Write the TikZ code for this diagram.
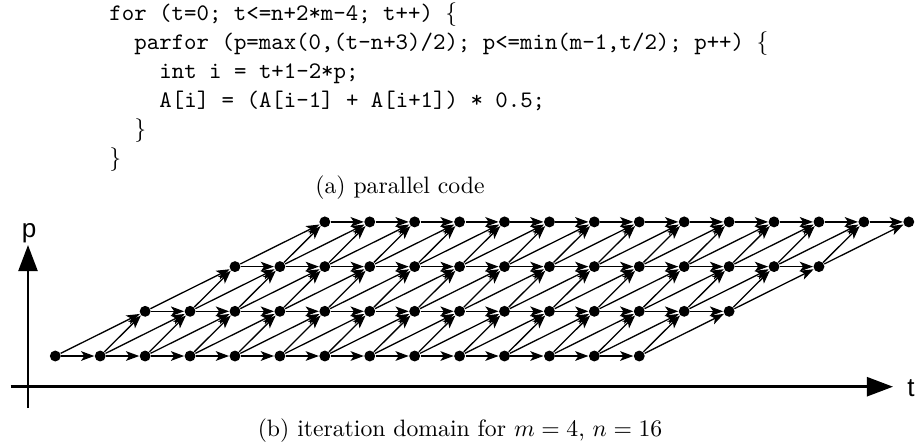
\documentclass[tikz,border=0pt]{standalone}
\usepackage{fontspec}
\newfontfamily\axisfont{Liberation Sans}
\usetikzlibrary{arrows.meta}
\begin{document}
\begin{tikzpicture}[x=0.422pt,y=-0.422pt,
  dot/.style={circle,fill=black,inner sep=0pt,minimum size=4.6pt},
  dep/.style={-{Stealth[length=5.6pt,width=4.1pt,inset=1.4pt]},line width=0.55pt},
  axis/.style={-{Triangle[length=11pt,width=8pt]},line width=1.1pt},
  code/.style={anchor=base west,inner sep=0pt,font=\ttfamily},
  caption/.style={anchor=base,inner sep=0pt},
  axlabel/.style={anchor=base,inner sep=0pt,font=\axisfont\fontsize{11}{13}\selectfont}]
\useasboundingbox (0,0) rectangle (915,447);
% code
\node[code] (c1) at (109,20.5) {for (t=0; t<=n+2*m-4; t++) $\{$};
\node[code] (c2) at (134,49.5) {parfor (p=max(0,(t-n+3)/2); p<=min(m-1,t/2); p++) $\{$};
\node[code] (c3) at (159,78.5) {int i = t+1-2*p;};
\node[code] (c4) at (159,107.5) {A[i] = (A[i-1] + A[i+1]) * 0.5;};
\node[code] (c5) at (134,136.5) {$\}$};
\node[code] (c6) at (109,165.5) {$\}$};
\node[caption] (capa) at (400,193) {(a) parallel code};
\node[caption] (capb) at (460,436) {(b) iteration domain for $m=4$, $n=16$};
% lattice nodes
\foreach \p in {0,...,3} {
  \pgfmathtruncatemacro\tmin{2*\p}
  \pgfmathtruncatemacro\tmax{2*\p+13}
  \foreach \t in {\tmin,...,\tmax} {
    \node[dot] (n-\t-\p) at ({55.3+44.92*\t},{356-44.7*\p}) {};
  }
}
% dependences
\foreach \p in {0,...,3} {
  \pgfmathtruncatemacro\tmin{2*\p}
  \pgfmathtruncatemacro\tmax{2*\p+13}
  \pgfmathtruncatemacro\pn{\p+1}
  \foreach \t in {\tmin,...,\tmax} {
    \pgfmathtruncatemacro\ta{\t+1}
    \pgfmathtruncatemacro\tb{\t+2}
    \ifnum\t<\tmax \draw[dep] (n-\t-\p) -- (n-\ta-\p); \fi
    \ifnum\p<3
      \ifnum\t>\tmin \draw[dep] (n-\t-\p) -- (n-\ta-\pn); \fi
      \draw[dep] (n-\t-\p) -- (n-\tb-\pn);
    \fi
  }
}
% axes
\coordinate (hx0) at (10.7,386.7);
\coordinate (hx1) at (893,386.7);
\coordinate (vy0) at (28,408);
\coordinate (vy1) at (28,245);
\draw[axis] (hx0) -- (hx1);
\draw[axis] (vy0) -- (vy1);
\node[axlabel] (tlab) at (911,396.7) {t};
\node[axlabel] (plab) at (29,237) {p};
\end{tikzpicture}
\end{document}
